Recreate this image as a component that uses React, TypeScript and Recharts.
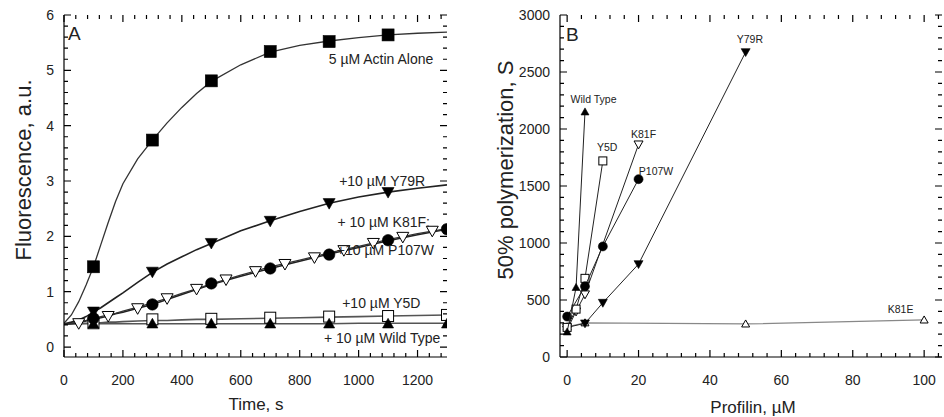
import React from "react";
import {
  ComposedChart,
  Line,
  Scatter,
  XAxis,
  YAxis,
  ReferenceDot,
} from "recharts";

const FONT = '"Liberation Sans", Arial, Helvetica, sans-serif';

// ---- Panel A: pyrene fluorescence traces ----
const traceTime = [0, 25, 50, 75, 100, 125, 150, 175, 200, 250, 300, 350, 400, 450, 500, 600, 700, 800, 900, 1000, 1100, 1200, 1300];
const actinTrace = [0.43, 0.58, 0.82, 1.12, 1.45, 1.85, 2.25, 2.63, 2.95, 3.4, 3.74, 4.05, 4.33, 4.58, 4.8, 5.1, 5.33, 5.45, 5.53, 5.59, 5.64, 5.67, 5.69];
const y79rTrace = [0.42, 0.45, 0.49, 0.55, 0.63, 0.71, 0.8, 0.89, 0.98, 1.17, 1.35, 1.5, 1.63, 1.76, 1.87, 2.1, 2.28, 2.45, 2.6, 2.71, 2.8, 2.87, 2.93];
const k81fTrace = [0.41, 0.43, 0.45, 0.48, 0.52, 0.55, 0.58, 0.61, 0.65, 0.72, 0.8, 0.88, 0.97, 1.05, 1.14, 1.3, 1.45, 1.57, 1.7, 1.82, 1.94, 2.05, 2.14];
const p107wTrace = [0.41, 0.42, 0.44, 0.47, 0.5, 0.53, 0.56, 0.6, 0.63, 0.7, 0.77, 0.86, 0.95, 1.04, 1.13, 1.28, 1.42, 1.55, 1.68, 1.8, 1.92, 2.03, 2.13];
const y5dTrace = [0.42, 0.42, 0.42, 0.43, 0.44, 0.44, 0.45, 0.45, 0.46, 0.47, 0.48, 0.48, 0.49, 0.5, 0.5, 0.51, 0.52, 0.53, 0.54, 0.55, 0.56, 0.57, 0.58];
const wtTrace = [0.42, 0.42, 0.42, 0.42, 0.42, 0.42, 0.42, 0.42, 0.42, 0.42, 0.42, 0.42, 0.42, 0.42, 0.42, 0.42, 0.42, 0.42, 0.42, 0.43, 0.43, 0.43, 0.43];

const oddTime = [100, 300, 500, 700, 900, 1100, 1300];
const actinMarks = [1.45, 3.74, 4.81, 5.34, 5.52, 5.64];
const y79rMarks = [0.64, 1.36, 1.88, 2.28, 2.6, 2.8];
const p107wMarks = [0.52, 0.77, 1.15, 1.42, 1.67, 1.93, 2.13];
const y5dMarks = [0.43, 0.5, 0.51, 0.53, 0.55, 0.56, 0.58];
const wtMarks = [0.42, 0.42, 0.42, 0.42, 0.42, 0.42, 0.42];
const k81fMarkTime = [50, 150, 250, 350, 450, 550, 650, 750, 850, 950, 1050, 1150, 1250];
const k81fMarks = [0.43, 0.56, 0.7, 0.88, 1.05, 1.22, 1.37, 1.5, 1.62, 1.75, 1.88, 1.99, 2.1];

const labelTextA = ["5 µM Actin Alone", "+10 µM Y79R", "+ 10 µM K81F:", "+10 µM P107W", "+10 µM Y5D", "+ 10 µM Wild Type"];
const labelTimeA = [1076, 1080, 1085, 1091, 1077, 1080];
const labelLevelA = [5.2, 3.0, 2.265, 1.753, 0.79, 0.154];

// ---- Panel B: time to 50% polymerization vs profilin ----
const wtProfilin = [0, 2.5, 5];
const wtHalf = [220, 610, 2150];
const y5dProfilin = [0, 2.5, 5, 10];
const y5dHalf = [260, 420, 690, 1720];
const k81fProfilin = [0, 2.5, 5, 20];
const k81fHalf = [240, 400, 550, 1865];
const p107wProfilin = [0, 5, 10, 20];
const p107wHalf = [355, 620, 970, 1560];
const y79rProfilin = [0, 5, 10, 20, 50];
const y79rHalf = [260, 295, 476, 815, 2675];
const k81eProfilin = [0, 5, 50, 100];
const k81eHalf = [265, 300, 290, 325];

const labelTextB = ["Wild Type", "Y5D", "K81F", "P107W", "Y79R", "K81E"];
const labelProfilinB = [7.4, 11.2, 21.4, 24.9, 51.2, 93.4];
const labelHalfB = [2259, 1838, 1956, 1632, 2789, 421];

const xy = (xs: number[], ys: number[]) => xs.map((x, i) => ({ x, y: ys[i] }));
const steps = (from: number, to: number, step: number) => {
  const out: number[] = [];
  for (let v = from; v <= to + 1e-9; v += step) out.push(Math.round(v * 1000) / 1000);
  return out;
};

type Kind = "square" | "circle" | "up" | "down";

function Mark({ cx, cy, kind, size, open }: { cx?: number; cy?: number; kind: Kind; size: number; open?: boolean }) {
  if (cx == null || cy == null) return null;
  const h = size / 2;
  const paint = { fill: open ? "#fff" : "#000", stroke: "#000", strokeWidth: open ? 1 : 0.6 };
  if (kind === "square") return <rect x={cx - h} y={cy - h} width={size} height={size} {...paint} />;
  if (kind === "circle") return <circle cx={cx} cy={cy} r={h} {...paint} />;
  const a = size * 0.5;
  const b = size * 0.38;
  if (kind === "up") return <polygon points={`${cx},${cy - a} ${cx + h},${cy + b} ${cx - h},${cy + b}`} {...paint} />;
  return <polygon points={`${cx - h},${cy - b} ${cx + h},${cy - b} ${cx},${cy + a}`} {...paint} />;
}

const shape = (kind: Kind, size: number, open = false) => (p: any) =>
  <Mark cx={p.cx} cy={p.cy} kind={kind} size={size} open={open} />;

const isMajor = (v: number, major: number) => Math.abs(v / major - Math.round(v / major)) < 1e-6;

// inward ticks on both opposite sides of the frame, label on bottom majors
function xTick(top: number, bottom: number, major: number) {
  return (p: any) => {
    const v = p.payload.value;
    const big = isMajor(v, major);
    const len = big ? 7 : 4;
    return (
      <g>
        <path d={`M${p.x},${bottom}V${bottom - len}M${p.x},${top}V${top + len}`} stroke="#000" strokeWidth={1.2} fill="none" />
        {big && (
          <text x={p.x} y={bottom + 28} textAnchor="middle" fontSize={14} fill="#222" stroke="none" fontFamily={FONT}>
            {v}
          </text>
        )}
      </g>
    );
  };
}

function yTick(left: number, right: number, major: number) {
  return (p: any) => {
    const v = p.payload.value;
    const big = isMajor(v, major);
    const len = big ? 7 : 4;
    return (
      <g>
        <path d={`M${left},${p.y}H${left + len}M${right},${p.y}H${right - len}`} stroke="#000" strokeWidth={1.2} fill="none" />
        {big && (
          <text x={left - 10} y={p.y + 5} textAnchor="end" fontSize={14} fill="#222" stroke="none" fontFamily={FONT}>
            {v}
          </text>
        )}
      </g>
    );
  };
}

const axisLine = { stroke: "#000", strokeWidth: 1.2 };

function PanelA() {
  const top = 15;
  const bottom = 357;
  const left = 64;
  const right = 447;
  const xDomain: [number, number] = [0, 1300];
  const yDomain: [number, number] = [-0.18, 6];
  return (
    <ComposedChart width={470} height={417} margin={{ top, right: 470 - right, bottom: 30, left: 0 }}>
      <XAxis dataKey="x" type="number" domain={xDomain} allowDataOverflow ticks={steps(0, 1280, 40)} interval={0} height={30}
        axisLine={axisLine} tickLine={false} tick={xTick(top, bottom, 200)} />
      <XAxis xAxisId="top" orientation="top" type="number" domain={xDomain} height={0} axisLine={axisLine} tickLine={false} tick={false} />
      <YAxis dataKey="y" type="number" domain={yDomain} allowDataOverflow ticks={steps(0, 6, 0.2)} interval={0} width={left}
        axisLine={axisLine} tickLine={false} tick={yTick(left, right, 1)} />
      <YAxis yAxisId="right" orientation="right" type="number" domain={yDomain} width={0} axisLine={axisLine} tickLine={false} tick={false} />
      {labelTextA.map((t, i) => (
        <ReferenceDot
          key={t}
          x={labelTimeA[i]}
          y={labelLevelA[i]}
          r={0}
          fill="none"
          stroke="none"
          label={{ value: t, position: "center", fontSize: 14, fill: "#222", fontFamily: FONT }}
        />
      ))}
      <Line data={xy(traceTime, wtTrace)} dataKey="y" stroke="#555" strokeWidth={1.6} dot={false} activeDot={false} isAnimationActive={false} />
      <Line data={xy(traceTime, y5dTrace)} dataKey="y" stroke="#555" strokeWidth={1.6} dot={false} activeDot={false} isAnimationActive={false} />
      <Line data={xy(traceTime, p107wTrace)} dataKey="y" stroke="#222" strokeWidth={1.5} dot={false} activeDot={false} isAnimationActive={false} />
      <Line data={xy(traceTime, k81fTrace)} dataKey="y" stroke="#333" strokeWidth={1.3} dot={false} activeDot={false} isAnimationActive={false} />
      <Line data={xy(traceTime, y79rTrace)} dataKey="y" stroke="#222" strokeWidth={1.6} dot={false} activeDot={false} isAnimationActive={false} />
      <Line data={xy(traceTime, actinTrace)} dataKey="y" stroke="#333" strokeWidth={1.3} dot={false} activeDot={false} isAnimationActive={false} />
      <Scatter data={xy(oddTime, y5dMarks)} shape={shape("square", 11, true)} isAnimationActive={false} />
      <Scatter data={xy(oddTime, wtMarks)} shape={shape("up", 11)} isAnimationActive={false} />
      <Scatter data={xy(k81fMarkTime, k81fMarks)} shape={shape("down", 12, true)} isAnimationActive={false} />
      <Scatter data={xy(oddTime, p107wMarks)} shape={shape("circle", 11.5)} isAnimationActive={false} />
      <Scatter data={xy(oddTime, y79rMarks)} shape={shape("down", 12)} isAnimationActive={false} />
      <Scatter data={xy(oddTime, actinMarks)} shape={shape("square", 12)} isAnimationActive={false} />
    </ComposedChart>
  );
}

function PanelB() {
  const top = 15;
  const bottom = 357;
  const left = 90;
  const right = 472;
  const xDomain: [number, number] = [-2, 105];
  const yDomain: [number, number] = [0, 3000];
  const line = { stroke: "#222", strokeWidth: 1 };
  return (
    <ComposedChart width={474} height={417} margin={{ top, right: 474 - right, bottom: 30, left: 0 }}>
      <XAxis dataKey="x" type="number" domain={xDomain} allowDataOverflow ticks={steps(0, 104, 4)} interval={0} height={30}
        axisLine={axisLine} tickLine={false} tick={xTick(top, bottom, 20)} />
      <XAxis xAxisId="top" orientation="top" type="number" domain={xDomain} height={0} axisLine={axisLine} tickLine={false} tick={false} />
      <YAxis dataKey="y" type="number" domain={yDomain} allowDataOverflow ticks={steps(0, 3000, 100)} interval={0} width={left}
        axisLine={axisLine} tickLine={false} tick={yTick(left, right, 500)} />
      <YAxis yAxisId="right" orientation="right" type="number" domain={yDomain} width={0} axisLine={axisLine} tickLine={false} tick={false} />
      {labelTextB.map((t, i) => (
        <ReferenceDot
          key={t}
          x={labelProfilinB[i]}
          y={labelHalfB[i]}
          r={0}
          fill="none"
          stroke="none"
          label={{ value: t, position: "center", fontSize: 10.5, fill: "#222", fontFamily: FONT }}
        />
      ))}
      <Scatter data={xy(k81eProfilin, k81eHalf)} line={{ stroke: "#888", strokeWidth: 1.2 }} shape={shape("up", 8, true)} isAnimationActive={false} />
      <Scatter data={xy(y79rProfilin, y79rHalf)} line={line} shape={shape("down", 9)} isAnimationActive={false} />
      <Scatter data={xy(k81fProfilin, k81fHalf)} line={line} shape={shape("down", 9, true)} isAnimationActive={false} />
      <Scatter data={xy(y5dProfilin, y5dHalf)} line={line} shape={shape("square", 8, true)} isAnimationActive={false} />
      <Scatter data={xy(p107wProfilin, p107wHalf)} line={line} shape={shape("circle", 9)} isAnimationActive={false} />
      <Scatter data={xy(wtProfilin, wtHalf)} line={line} shape={shape("up", 8)} isAnimationActive={false} />
    </ComposedChart>
  );
}

export default function App() {
  return (
    <div style={{ position: "absolute", left: 0, top: 0, width: 944, height: 417, background: "#fff", fontFamily: FONT }}>
      <div style={{ position: "absolute", left: 0, top: 0 }}>
        <PanelA />
      </div>
      <div style={{ position: "absolute", left: 470, top: 0 }}>
        <PanelB />
      </div>
      <svg width={944} height={417} style={{ position: "absolute", left: 0, top: 0, pointerEvents: "none" }}>
        <g fontFamily={FONT} fill="#222">
          <text x={68} y={40} fontSize={19}>A</text>
          <text x={566} y={41} fontSize={19}>B</text>
          <text x={256} y={410} fontSize={17} textAnchor="middle">Time, s</text>
          <text x={753} y={413} fontSize={17} textAnchor="middle">Profilin, µM</text>
          <text transform="translate(31,170) rotate(-90)" fontSize={22} textAnchor="middle">Fluorescence, a.u.</text>
          <text transform="translate(513,170) rotate(-90)" fontSize={22} textAnchor="middle">50% polymerization, S</text>
        </g>
      </svg>
    </div>
  );
}
